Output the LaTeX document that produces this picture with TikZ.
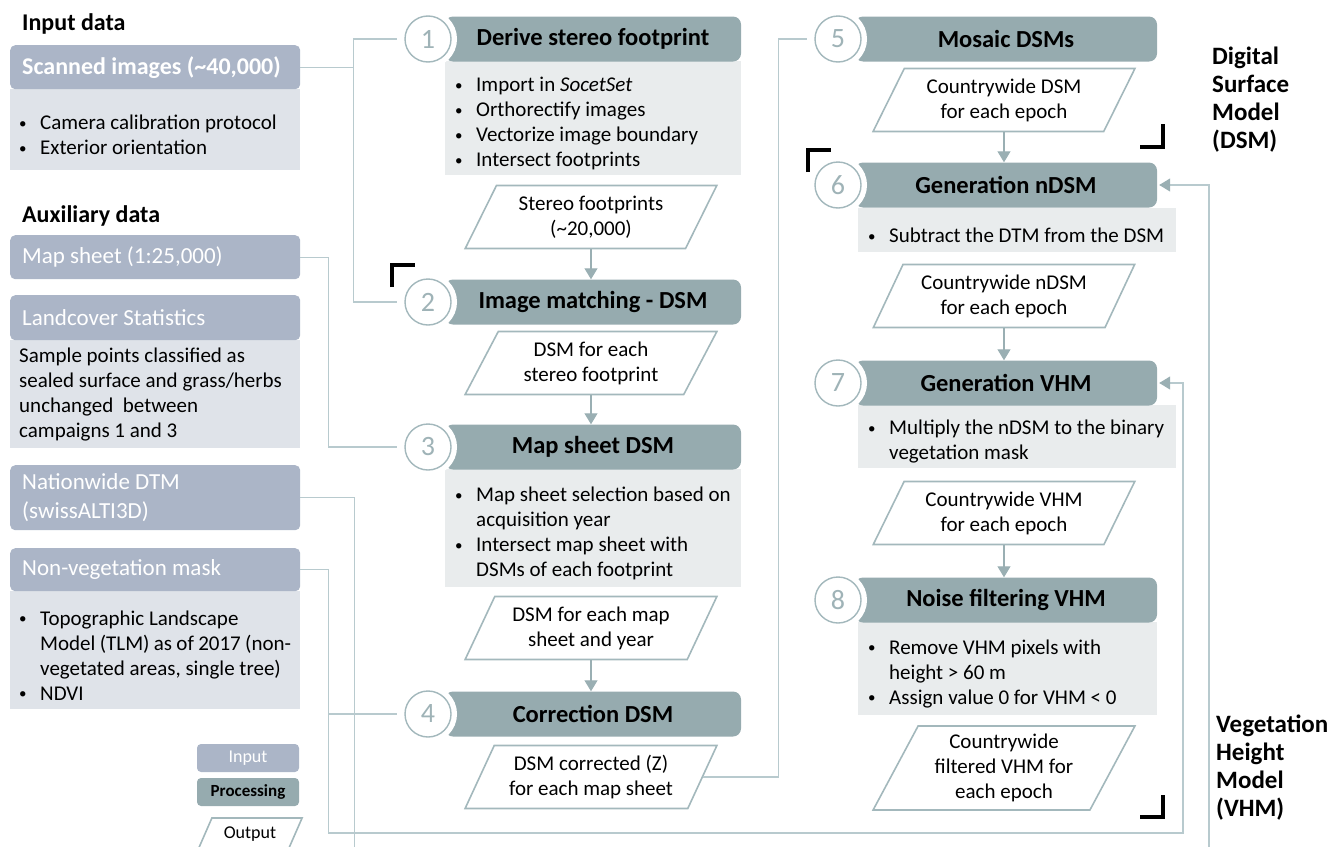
\documentclass[tikz,border=0pt]{standalone}
\usepackage{fontspec}
\setmainfont{Carlito}
\usetikzlibrary{arrows.meta,shapes.geometric,positioning}

\definecolor{incol}{HTML}{ABB5C7}
\definecolor{inbodycol}{HTML}{DFE3E9}
\definecolor{proccol}{HTML}{96ABAF}
\definecolor{procbodycol}{HTML}{E9ECED}
\definecolor{linkcol}{HTML}{B8CACE}
\definecolor{edgecol}{HTML}{A3B8BC}
\definecolor{arrowcol}{HTML}{9AAFB3}
\definecolor{numcol}{HTML}{9FB3B7}

\newcommand{\bodyfont}{\fontsize{21}{25}\selectfont}
\newcommand{\normspace}{\spaceskip=0pt\xspaceskip=0pt\relax}
\newcommand{\itm}[1]{\par\hangindent=21pt\hangafter=1\noindent
    \makebox[21pt][l]{\raisebox{1.5pt}{\fontsize{15}{15}\selectfont\textbullet}}#1\par}

\tikzset{title/.style={anchor=west,inner sep=0pt,font=\fontsize{24}{28}\selectfont\bfseries}}
\tikzset{inhead/.style={fill=incol,rounded corners=5pt,anchor=north west,
                        text width=266pt,inner xsep=12pt,inner ysep=0pt,align=flush left,
                        execute at begin node=\normspace,
                        text=white,font=\fontsize{23}{29}\selectfont}}
\tikzset{inbody/.style={fill=inbodycol,anchor=north west,text width=272pt,
                        inner xsep=9pt,inner ysep=0pt,align=flush left,
                        execute at begin node=\normspace,font=\bodyfont}}
\tikzset{stephead/.style={fill=proccol,rounded corners=8pt,minimum width=296pt,
                          minimum height=45pt,font=\fontsize{24.5}{26}\selectfont\bfseries}}
\tikzset{stepnum/.style={circle,draw=edgecol,line width=1.4pt,fill=white,
                         minimum size=46pt,inner sep=0pt,outer sep=8pt,text=numcol,
                         font=\fontsize{28}{28}\selectfont,
                         preaction={draw=white,line width=12pt}}}
\tikzset{stepbody/.style={fill=procbodycol,anchor=north west,inner xsep=10pt,
                          inner ysep=0pt,align=flush left,
                          execute at begin node=\normspace,font=\bodyfont}}
\tikzset{outbox/.style={trapezium,trapezium left angle=63,trapezium right angle=117,
                        trapezium stretches=true,draw=edgecol,line width=1.6pt,fill=white,
                        minimum width=252pt,minimum height=63pt,align=center,font=\bodyfont}}
\tikzset{legend/.style={rounded corners=4pt,minimum width=102pt,minimum height=28pt,
                        font=\fontsize{18}{20}\selectfont}}
\tikzset{link/.style={draw=linkcol,line width=1.2pt}}
\tikzset{flow/.style={draw=arrowcol,line width=1.2pt,-{Triangle[width=13pt,length=11pt]}}}
\tikzset{feed/.style={link,shorten >=2pt,-{Triangle[width=13pt,length=11pt,color=arrowcol]}}}
\tikzset{bracket/.style={line width=3.5pt}}

\begin{document}
\begin{tikzpicture}[x=1pt,y=-1pt]
\useasboundingbox (0,0) rectangle (1333,846);
\clip (0,0) rectangle (1333,846);

% Input data
\node[title] (tin) at (22,24) {Input data};
\node[inbody,minimum height=81pt] (scanb) at (10,89)
     {\itm{Camera calibration protocol}\itm{Exterior orientation}};
\node[inhead,minimum height=44pt,font=\fontsize{24}{29}\selectfont\bfseries] (scan) at (10,45)
     {Scanned images (\textasciitilde 40,000)};

% Auxiliary data
\node[title] (taux) at (22,216) {Auxiliary data};
\node[inhead,minimum height=44pt] (map) at (10,235) {Map sheet (1:25,000)};
\node[inbody,minimum height=108pt] (landb) at (10,340)
     {Sample points classified as\\sealed surface and grass/herbs\\unchanged\ \ between\\campaigns 1 and 3};
\node[inhead,minimum height=45pt] (land) at (10,295) {Landcover Statistics};
\node[inhead,minimum height=65pt] (dtm) at (10,465) {Nationwide DTM\\(swissALTI3D)};
\node[inbody,minimum height=118pt] (maskb) at (10,591)
     {\itm{Topographic Landscape\newline Model (TLM) as of 2017 (non-\newline vegetated areas, single tree)}\itm{NDVI}};
\node[inhead,minimum height=43pt] (mask) at (10,548) {Non-vegetation mask};

% Steps 1-4
\node[stepbody,text width=276pt,minimum height=114pt] (b1) at (445,61)
     {\itm{Import in \textit{SocetSet}}\itm{Orthorectify images}\itm{Vectorize image boundary}\itm{Intersect footprints}};
\node[stepbody,text width=276pt,minimum height=118pt] (b3) at (445,469)
     {\itm{Map sheet selection based on\newline acquisition year}\itm{Intersect map sheet with\newline DSMs of each footprint}};
\foreach \y/\t [count=\i] in {39/Derive stereo footprint,302/Image matching - DSM,
                              447/Map sheet DSM,714/Correction DSM}{
    \node[stephead] (h\i) at (593,\y) {\t};
    \node[stepnum] (c\i) at (428,\y) {\i};
}
\node[outbox] (p1) at (591,217) {Stereo footprints\\(\textasciitilde 20,000)};
\node[outbox] (p2) at (591,363) {DSM for each\\stereo footprint};
\node[outbox] (p3) at (591,628) {DSM for each map\\sheet and year};
\node[outbox] (p4) at (591,777) {DSM corrected (Z)\\for each map sheet};

% Steps 5-8
\node[stepbody,text width=298pt,minimum height=44pt] (b6) at (858,208)
     {\itm{Subtract the DTM from the DSM}};
\node[stepbody,text width=298pt,minimum height=63pt] (b7) at (858,405)
     {\itm{Multiply the nDSM to the binary\newline vegetation mask}};
\node[stepbody,text width=279pt,minimum height=93pt] (b8) at (858,622)
     {\itm{Remove VHM pixels with\newline height > 60 m}\itm{Assign value 0 for VHM < 0}};
\foreach \y/\t [count=\i from 5] in {39/Mosaic DSMs,185/Generation nDSM,
                                     383/Generation VHM,600/Noise filtering VHM}{
    \node[stephead,minimum width=302pt] (h\i) at (1006,\y) {\t};
    \node[stepnum] (c\i) at (838,\y) {\i};
}
\node[outbox,minimum width=262pt] (p5) at (1004,100) {Countrywide DSM\\for each epoch};
\node[outbox,minimum width=262pt] (p6) at (1004,296) {Countrywide nDSM\\for each epoch};
\node[outbox,minimum width=262pt] (p7) at (1004,513) {Countrywide VHM\\for each epoch};
\node[outbox,minimum width=262pt,minimum height=84pt] (p8) at (1004,768)
     {Countrywide\\filtered VHM for\\each epoch};

% Arrows between steps
\foreach \a/\b in {p1/h2,p2/h3,p3/h4,p5/h6,p6/h7,p7/h8}
    \draw[flow] (\a.center |- \a.bottom side) -- (\a.center |- \b.north);

% Connectors
\draw[link] (scan.east) -- ++(53,0) |- (c1);
\draw[link] (scan.east) -- ++(53,0) |- (c2);
\draw[link] (map.east) -- ++(28,0) |- (c3);
\draw[link] (mask.east) -- ++(28,0) |- (c4);
\draw[link] (p4.right side) -- ++(75,0) |- (c5);
\draw[feed] (dtm.east) -- ++(54,0) |- (1209,870) |- (h6.east);
\draw[feed] (mask.east) -- ++(28,0) |- (1183,833) |- (h7.east);

% Groups
\draw[bracket] (392,287) -- (392,265) -- (415,265);
\draw[bracket] (1140,147) -- (1163,147) -- (1163,124);
\draw[bracket] (808,172) -- (808,150) -- (831,150);
\draw[bracket] (1140,817) -- (1163,817) -- (1163,795);
\node[title,anchor=north west,align=left,font=\fontsize{25}{28}\selectfont\bfseries] (dsm) at (1212,47)
     {Digital\\Surface\\Model\\(DSM)};
\node[title,anchor=north west,align=left,font=\fontsize{25}{28}\selectfont\bfseries] (vhm) at (1216,715)
     {Vegetation\\Height\\Model\\(VHM)};

% Legend
\node[legend,fill=incol,text=white] (lin) at (248,758) {Input};
\node[legend,fill=proccol,font=\fontsize{17}{20}\selectfont\bfseries] (lproc) at (248,792) {Processing};
\node[outbox,minimum width=105pt,minimum height=32pt,font=\fontsize{18}{20}\selectfont] (lout) at (250,834) {Output};
\end{tikzpicture}
\end{document}
